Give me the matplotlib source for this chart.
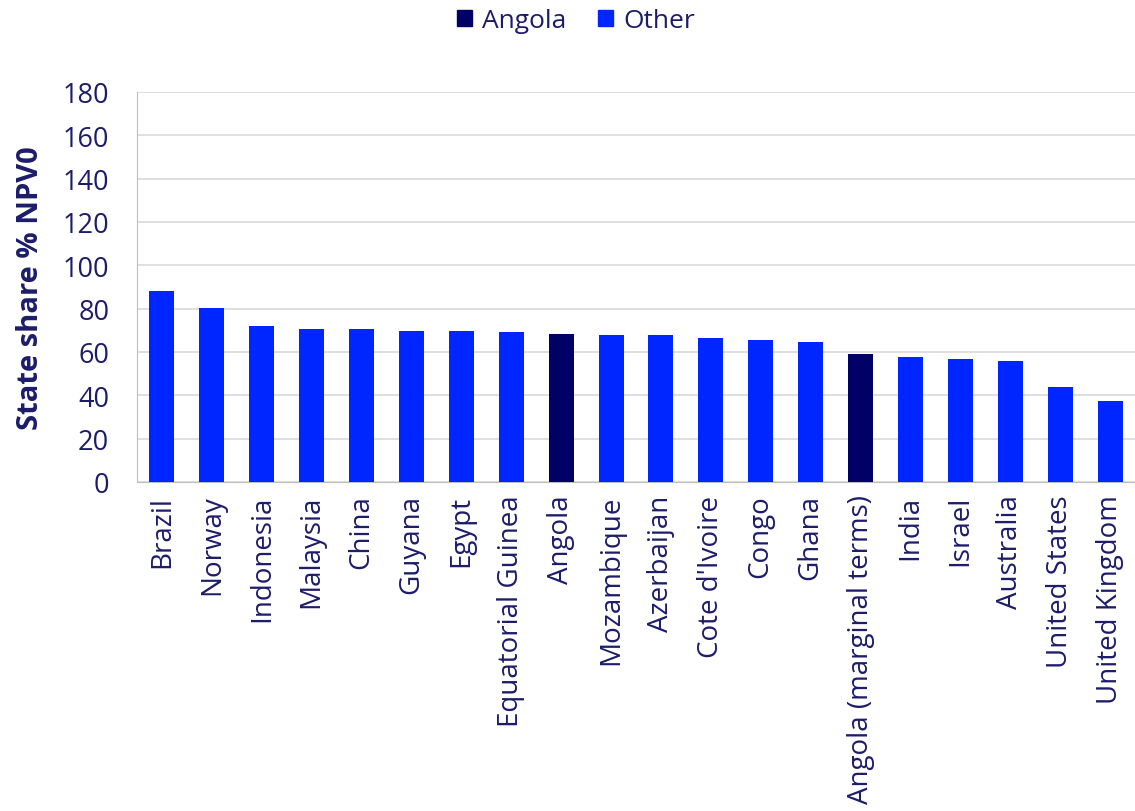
import matplotlib
matplotlib.use("Agg")
import matplotlib.pyplot as plt
from matplotlib.patches import Patch

countries = ["Brazil", "Norway", "Indonesia", "Malaysia", "China", "Guyana", "Egypt",
             "Equatorial Guinea", "Angola", "Mozambique", "Azerbaijan", "Cote d'Ivoire",
             "Congo", "Ghana", "Angola (marginal terms)", "India", "Israel", "Australia",
             "United States", "United Kingdom"]
values = [88.3, 80.5, 72.0, 70.6, 70.6, 69.7, 69.7, 69.4, 68.3, 68.0, 67.8, 66.3,
          65.7, 64.8, 59.1, 57.6, 56.6, 56.0, 43.7, 37.2]
groups = ["Other"] * 8 + ["Angola"] + ["Other"] * 5 + ["Angola"] + ["Other"] * 5
yticks = [0, 20, 40, 60, 80, 100, 120, 140, 160, 180]

colors = {"Angola": "#000066", "Other": "#0026FF"}
text_color = "#1c1c6b"

plt.rcParams['font.family'] = ['Open Sans', 'DejaVu Sans']

fig = plt.figure(figsize=(11.35, 8.12), dpi=100)
ax = fig.add_axes([137 / 1135, 1 - 483 / 812, (1135 - 137) / 1135, 390 / 812])

x = list(range(len(countries)))
ax.bar(x, values, width=0.5, color=[colors[g] for g in groups], zorder=3)

ax.set_xlim(-0.5, len(countries) - 0.5)
ax.set_ylim(0, 180)
ax.set_yticks(yticks)
ax.set_yticklabels([str(t) for t in yticks], fontsize=19.5, color=text_color)
ax.set_xticks(x)
ax.set_xticklabels(countries, rotation=90, fontsize=20, color=text_color)
ax.tick_params(axis='y', length=0, pad=20)
ax.tick_params(axis='x', length=0, pad=9)
ax.yaxis.grid(True, color="#d9d9d9", linewidth=1.2, zorder=0)
ax.set_axisbelow(True)
for s in ["top", "right"]:
    ax.spines[s].set_visible(False)
ax.spines["left"].set_color("#bfbfbf")
ax.spines["bottom"].set_color("#bfbfbf")
ax.set_ylabel("State share % NPV0", fontsize=21, fontweight="bold", color=text_color)
ax.yaxis.set_label_coords((45 - 137) / 998, 0.5)

handles = [Patch(color=colors["Angola"], label="Angola"), Patch(color=colors["Other"], label="Other")]
fig.legend(handles=handles, loc="center", bbox_to_anchor=(576 / 1135, 1 - 22 / 812), ncol=2,
           frameon=False, fontsize=19, labelcolor=text_color, handlelength=0.55, handleheight=0.55,
           handletextpad=0.4, columnspacing=1.2)

fig.savefig("out.png", dpi=100)
